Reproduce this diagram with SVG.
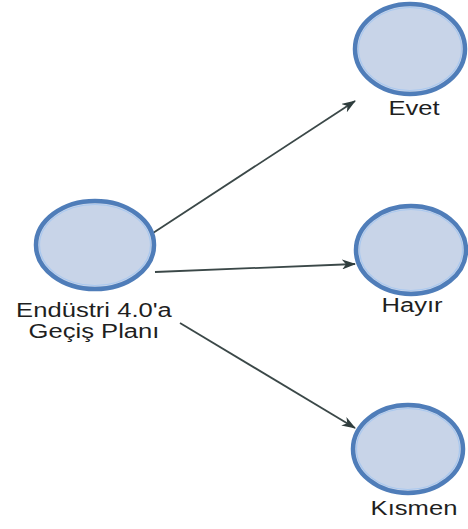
<svg xmlns="http://www.w3.org/2000/svg" width="468" height="529" viewBox="0 0 468 529">
<defs>
<style>
.node-outer{fill:#c8d4e8;stroke:#4f7db9;stroke-width:4.5}
.node-inner{fill:none;stroke:#a9c8ef;stroke-width:1.2}
.lbl{font-family:"Liberation Sans",Arial,sans-serif;font-size:21px;fill:#1f1f1f;text-anchor:middle}
.edge{stroke:#3b4848;stroke-width:1.8;fill:none}
</style>
<marker id="ah" viewBox="0 0 14 10" refX="13" refY="5" markerWidth="14" markerHeight="10" markerUnits="userSpaceOnUse" orient="auto">
<path d="M0,0 L14,5 L0,10 L4,5 Z" fill="#2f3d3d"/>
</marker>
</defs>
<rect width="468" height="529" fill="#ffffff"/>
<g id="connectors">
<line class="edge" x1="153" y1="233" x2="355" y2="101" marker-end="url(#ah)"/>
<line class="edge" x1="155" y1="272" x2="355" y2="264" marker-end="url(#ah)"/>
<line class="edge" x1="180" y1="323" x2="355" y2="428" marker-end="url(#ah)"/>
</g>
<g id="node-source">
<ellipse class="node-outer" cx="95" cy="245" rx="59" ry="44"/>
<ellipse class="node-inner" cx="95" cy="245" rx="55.5" ry="40.5"/>
<text class="lbl" transform="translate(94,0) scale(1.22,1)"><tspan x="0" y="317">Endüstri 4.0'a</tspan><tspan x="0" y="338">Geçiş Planı</tspan></text>
</g>
<g id="node-evet">
<ellipse class="node-outer" cx="410" cy="49" rx="55" ry="45"/>
<ellipse class="node-inner" cx="410" cy="49" rx="51.5" ry="41.5"/>
<text class="lbl" transform="translate(414,115) scale(1.22,1)" x="0" y="0">Evet</text>
</g>
<g id="node-hayir">
<ellipse class="node-outer" cx="411" cy="250" rx="55" ry="44"/>
<ellipse class="node-inner" cx="411" cy="250" rx="51.5" ry="40.5"/>
<text class="lbl" transform="translate(412,312) scale(1.22,1)" x="0" y="0">Hayır</text>
</g>
<g id="node-kismen">
<ellipse class="node-outer" cx="408" cy="449" rx="55" ry="44"/>
<ellipse class="node-inner" cx="408" cy="449" rx="51.5" ry="40.5"/>
<text class="lbl" transform="translate(414,515) scale(1.22,1)" x="0" y="0">Kısmen</text>
</g>
</svg>
